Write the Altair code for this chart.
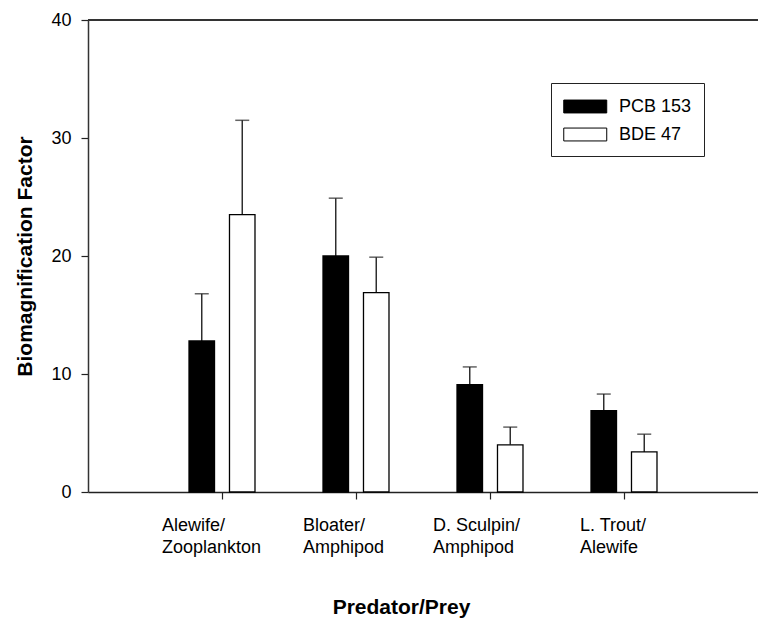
import altair as alt
import pandas as pd

categories = ["Alewife/Zooplankton", "Bloater/Amphipod", "D. Sculpin/Amphipod", "L. Trout/Alewife"]
series = ["PCB 153", "BDE 47"]
pcb_values = [12.8, 20.0, 9.1, 6.9]
pcb_errors = [4.0, 4.9, 1.5, 1.4]
bde_values = [23.5, 16.9, 4.0, 3.4]
bde_errors = [8.0, 3.0, 1.5, 1.5]
y_ticks = [0, 10, 20, 30, 40]

rows = []
for i, c in enumerate(categories):
    rows.append({"pair": c, "compound": series[0], "value": pcb_values[i], "upper": pcb_values[i] + pcb_errors[i]})
    rows.append({"pair": c, "compound": series[1], "value": bde_values[i], "upper": bde_values[i] + bde_errors[i]})
df = pd.DataFrame(rows)

FONT = "Liberation Sans"

x_enc = alt.X(
    "pair:N",
    sort=categories,
    scale=alt.Scale(paddingInner=0, paddingOuter=0.5),
    axis=alt.Axis(
        title="Predator/Prey",
        labelAngle=0,
        labelExpr="split(replace(datum.label, '/', '/|'), '|')",
        labelAlign="left",
        labelBaseline="top",
        labelOffset={
            "condition": [
                {"test": "datum.value == 'Alewife/Zooplankton'", "value": -60},
                {"test": "datum.value == 'Bloater/Amphipod'", "value": -53},
                {"test": "datum.value == 'D. Sculpin/Amphipod'", "value": -57},
            ],
            "value": -44,
        },
        labelPadding=17,
        labelLineHeight=22,
        labelFontSize=18,
        labelFont=FONT,
        labelColor="black",
        tickSize=7,
        tickColor="#222",
        tickWidth=1.2,
        domainColor="#222",
        domainWidth=1.5,
        titleFont=FONT,
        titleFontSize=21,
        titleFontWeight="bold",
        titleColor="black",
        titleX=313,
        titleY=121,
        titleBaseline="alphabetic",
    ),
)
xoff_enc = alt.XOffset("compound:N", sort=series, scale=alt.Scale(paddingInner=0.37, paddingOuter=0.84))

y_scale = alt.Scale(domain=[0, 40], nice=False)

bars = alt.Chart(df).mark_bar(stroke="black", strokeWidth=1.3).encode(
    x=x_enc,
    xOffset=xoff_enc,
    y=alt.Y(
        "value:Q",
        scale=y_scale,
        axis=alt.Axis(
            title="Biomagnification Factor",
            values=y_ticks,
            grid=False,
            tickSize=7,
            tickColor="#222",
            tickWidth=1.2,
            domainColor="#333",
            domainWidth=1.5,
            labelFont=FONT,
            labelFontSize=18,
            labelColor="black",
            labelPadding=10,
            titleFont=FONT,
            titleFontSize=21,
            titleFontWeight="bold",
            titleColor="black",
            titlePadding=15,
        ),
    ),
    color=alt.Color(
        "compound:N",
        sort=series,
        scale=alt.Scale(domain=series, range=["black", "white"]),
        legend=alt.Legend(
            title=None,
            orient="none",
            legendX=463,
            legendY=63,
            padding=12,
            strokeColor="#222",
            symbolType="M-1,-0.6H3V0.6H-1Z",
            symbolSize=462,
            symbolStrokeColor="black",
            symbolStrokeWidth=1,
            symbolOpacity=1,
            labelFont=FONT,
            labelFontSize=18,
            labelColor="black",
            labelOffset=33,
            rowPadding=7,
            labelLimit=300,
        ),
    ),
)

err_rule = alt.Chart(df).mark_rule(color="#222", strokeWidth=1.4).encode(
    x=alt.X("pair:N", sort=categories),
    xOffset=alt.XOffset("compound:N", sort=series),
    y=alt.Y("value:Q", scale=y_scale),
    y2="upper:Q",
)

err_cap = alt.Chart(df).mark_tick(color="#222", size=14, thickness=1.5).encode(
    x=alt.X("pair:N", sort=categories),
    xOffset=alt.XOffset("compound:N", sort=series),
    y=alt.Y("upper:Q", scale=y_scale),
)

top_line = alt.Chart(pd.DataFrame({"top": [40]})).mark_rule(color="#333", strokeWidth=2).encode(
    y=alt.Y("top:Q", scale=y_scale)
)

chart = (
    alt.layer(err_rule, err_cap, bars, top_line)
    .resolve_scale(x="shared")
    .properties(
        width=670,
        height=472,
        autosize=alt.AutoSizeParams(type="none"),
        padding={"left": 88, "top": 20, "right": 0, "bottom": 127},
        background="white",
    )
    .configure_view(strokeWidth=0)
)

chart.save("out.html", embed_options={"renderer": "svg", "actions": False})
